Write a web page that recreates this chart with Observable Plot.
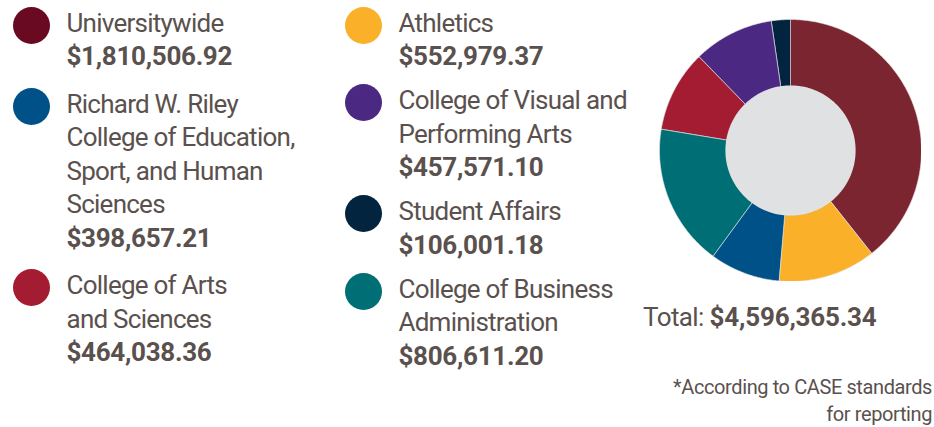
<!DOCTYPE html>
<html>
<head>
<meta charset="utf-8">
<script src="https://cdn.jsdelivr.net/npm/d3@7"></script>
<script src="https://cdn.jsdelivr.net/npm/@observablehq/plot@0.6"></script>
<style>
  html, body { margin: 0; padding: 0; background: #fff; }
  body { width: 934px; height: 427px; position: relative; overflow: hidden;
         font-family: Roboto, "Noto Sans", sans-serif; color: #5a514e; }
  .col { position: absolute; top: 6.5px; display: flex; flex-direction: column; }
  .item { position: relative; font-size: 26px; line-height: 33.5px; letter-spacing: -0.75px; }
  .dot { position: absolute; width: 37px; height: 37px; border-radius: 50%; top: 0; }
  .amt { font-weight: 700; letter-spacing: -0.3px; }
  #total { position: absolute; left: 643px; top: 301px; font-size: 26px; line-height: 33.5px; letter-spacing: -0.6px; white-space: nowrap; }
  #total b { letter-spacing: -0.2px; }
  #note { position: absolute; right: 2px; top: 374px; font-size: 20px; line-height: 27px; text-align: right; letter-spacing: -0.4px; }
  #pie { position: absolute; left: 659px; top: 19px; }
</style>
</head>
<body>
<div id="legend"></div>
<div id="pie"></div>
<div id="total">Total: <b id="totalAmt"></b></div>
<div id="note">*According to CASE standards<br>for reporting</div>
<script>
// Pie order (clockwise from 12 o'clock)
const categories = ["Universitywide", "Athletics", "Richard W. Riley College of Education, Sport, and Human Sciences", "College of Business Administration", "College of Arts and Sciences", "College of Visual and Performing Arts", "Student Affairs"];
const values = [1810506.92, 552979.37, 398657.21, 806611.20, 464038.36, 457571.10, 106001.18];
const sliceColors = ["#7a2530", "#fbb02a", "#015189", "#006f75", "#a41c31", "#4b2983", "#03243f"];
const legendColors = ["#6a0a22", "#fbb02a", "#015189", "#006f75", "#a41c31", "#4b2983", "#03243f"];
// Legend text (as wrapped in the reference)
const legendLines = [
  ["Universitywide"],
  ["Athletics"],
  ["Richard W. Riley", "College of Education,", "Sport, and Human", "Sciences"],
  ["College of Business", "Administration"],
  ["College of Arts", "and Sciences"],
  ["College of Visual and", "Performing Arts"],
  ["Student Affairs"]
];
const amountLabels = ["$1,810,506.92", "$552,979.37", "$398,657.21", "$806,611.20", "$464,038.36", "$457,571.10", "$106,001.18"];
const totalLabel = "$4,596,365.34";
// Legend columns (indices into categories)
const legendColumns = [[0, 2, 4], [1, 5, 6, 3]];

// Legend
const colLefts = [12.5, 344.5];
const colGaps = [14, 10.5];
const textOffset = 54;
const legend = document.getElementById("legend");
legendColumns.forEach((col, ci) => {
  const div = document.createElement("div");
  div.className = "col";
  div.style.left = colLefts[ci] + "px";
  div.style.gap = colGaps[ci] + "px";
  col.forEach(i => {
    const item = document.createElement("div");
    item.className = "item";
    item.style.paddingLeft = textOffset + "px";
    const dot = document.createElement("div");
    dot.className = "dot";
    dot.style.left = "0px";
    dot.style.background = legendColors[i];
    item.appendChild(dot);
    legendLines[i].forEach(l => {
      const d = document.createElement("div");
      d.textContent = l;
      item.appendChild(d);
    });
    const a = document.createElement("div");
    a.className = "amt";
    a.textContent = amountLabels[i];
    item.appendChild(a);
    div.appendChild(item);
  });
  legend.appendChild(div);
});
document.getElementById("totalAmt").textContent = totalLabel;

// Donut via d3.pie angles -> planar polygons drawn with Plot.geo
const data = categories.map((c, i) => ({category: c, value: values[i]}));
const arcs = d3.pie().sort(null).value(d => d.value)(data);
const rOuter = 1, rInner = 0.497;
const pt = (r, a) => [r * Math.sin(a), -r * Math.cos(a)];
function sector(a0, a1, r0, r1) {
  const n = Math.max(4, Math.ceil((a1 - a0) / 0.01));
  const ring = [];
  for (let k = 0; k <= n; k++) ring.push(pt(r1, a0 + (a1 - a0) * k / n));
  for (let k = n; k >= 0; k--) ring.push(pt(r0, a0 + (a1 - a0) * k / n));
  ring.push(ring[0]);
  return ring;
}
const slices = arcs.map(a => ({
  type: "Feature",
  properties: {category: a.data.category},
  geometry: {type: "Polygon", coordinates: [sector(a.startAngle, a.endAngle, 0, rOuter)]}
}));
const circleRing = r => { const ring = []; for (let k = 0; k <= 360; k++) ring.push(pt(r, k * Math.PI / 180)); return ring; };
const hole = {type: "Feature", properties: {}, geometry: {type: "Polygon", coordinates: [circleRing(rInner)]}};
const domain = {type: "Feature", properties: {}, geometry: {type: "Polygon", coordinates: [circleRing(rOuter)]}};

const chart = Plot.plot({
  width: 262,
  height: 262,
  margin: 0,
  projection: {type: "identity", domain},
  color: {domain: categories, range: sliceColors},
  marks: [
    Plot.geo(slices, {fill: d => d.properties.category, stroke: "#e8e8ea", strokeWidth: 0.6}),
    Plot.geo([hole], {fill: "#e0e1e3"})
  ]
});
document.getElementById("pie").appendChild(chart);
</script>
</body>
</html>
